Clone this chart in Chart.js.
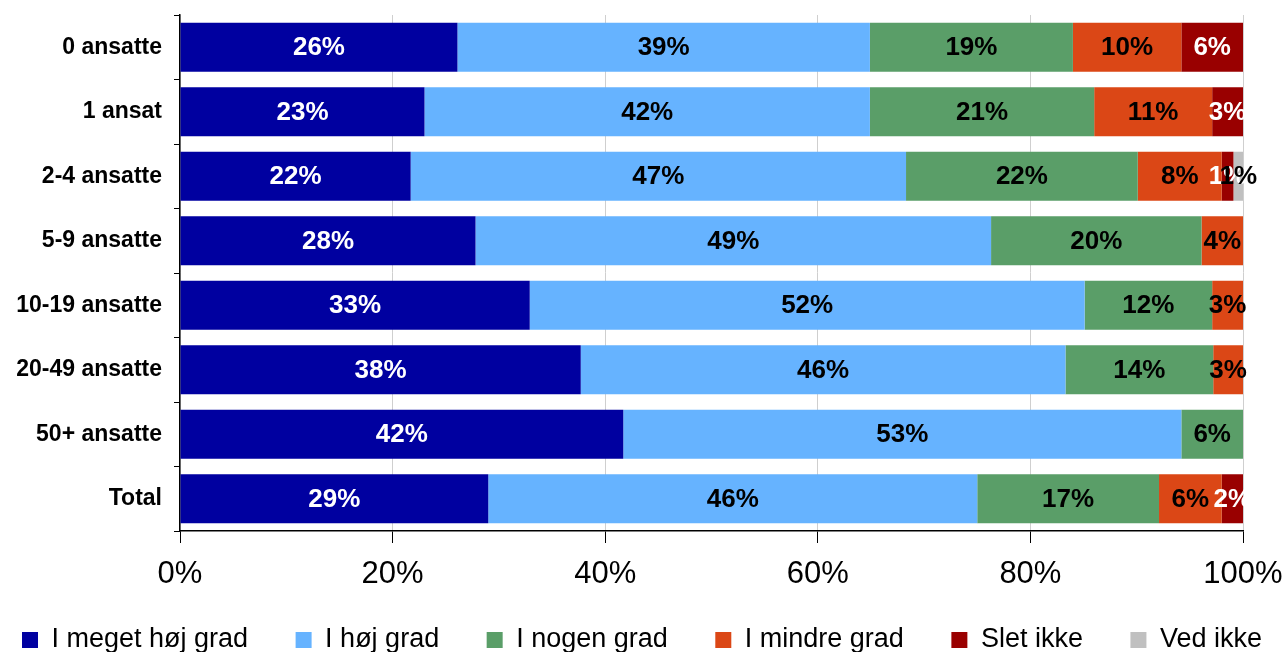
<!DOCTYPE html>
<html><head><meta charset="utf-8">
<script src="https://cdn.jsdelivr.net/npm/chart.js@4/dist/chart.umd.min.js"></script>
<style>html,body{margin:0;padding:0;background:#fff;}#wrap{width:1284px;height:652px;}</style>
</head><body><div id="wrap"><canvas id="c" width="1284" height="652"></canvas></div>
<script>
const categories = ["0 ansatte","1 ansat","2-4 ansatte","5-9 ansatte","10-19 ansatte","20-49 ansatte","50+ ansatte","Total"];
const meget = [26.1, 23.0, 21.7, 27.8, 32.9, 37.7, 41.7, 29.0];
const hoj    = [38.8, 41.9, 46.6, 48.5, 52.2, 45.6, 52.5, 46.0];
const nogen  = [19.1, 21.1, 21.8, 19.8, 12.0, 13.9, 5.8, 17.1];
const mindre = [10.2, 11.1, 7.9, 3.9, 2.9, 2.8, 0, 5.9];
const slet   = [5.8, 2.9, 1.1, 0, 0, 0, 0, 2.0];
const vedikke= [0, 0, 0.9, 0, 0, 0, 0, 0];
const seriesNames = ["I meget høj grad","I høj grad","I nogen grad","I mindre grad","Slet ikke","Ved ikke"];
const xTicks = [0,20,40,60,80,100];

const colors = ["#0000A0","#66B3FF","#5A9E68","#DB4716","#990000","#C0C0C0"];
const labelColors = ["#fff","#000","#000","#000","#fff","#000"];
const allData = [meget,hoj,nogen,mindre,slet,vedikke];
const SP = "\u00A0\u00A0\u00A0\u00A0\u00A0";

const labelPlugin = {
  id:'barLabels',
  afterDatasetsDraw(chart){
    const ctx = chart.ctx;
    ctx.save();
    ctx.font = "bold 26px 'Liberation Sans', Arial, sans-serif";
    ctx.textAlign = 'center';
    ctx.textBaseline = 'middle';
    chart.data.datasets.forEach((ds,di)=>{
      const meta = chart.getDatasetMeta(di);
      meta.data.forEach((el,i)=>{
        const v = ds.data[i];
        if(!v) return;
        const p = el.getProps(['x','y','base'],true);
        ctx.fillStyle = labelColors[di];
        ctx.fillText(Math.round(v)+'%', (p.x+p.base)/2, p.y+1);
      });
    });
    ctx.restore();
  }
};

new Chart(document.getElementById('c'),{
  type:'bar',
  data:{
    labels:categories,
    datasets:allData.map((d,i)=>({label:seriesNames[i],data:d,backgroundColor:colors[i],borderWidth:0,barPercentage:0.76,categoryPercentage:1}))
  },
  options:{
    indexAxis:'y',
    responsive:false,
    animation:false,
    devicePixelRatio:1,
    layout:{padding:{left:0,right:0,top:15,bottom:-11.5}},
    scales:{
      x:{
        stacked:true,min:0,max:100,
        afterBuildTicks(s){ s.ticks = xTicks.map(v=>({value:v})); },
        ticks:{callback:v=>v+'%',color:'#000',font:{family:"'Liberation Sans', Arial, sans-serif",size:31},padding:13,maxRotation:0},
        grid:{color:'#cfcfcf',lineWidth:1,tickLength:12,tickColor:'#000'},
        border:{color:'#000',width:1.5},
        afterFit(s){ s.height = 85.5; s.paddingRight = 41; s.paddingLeft = 0; }
      },
      y:{
        stacked:true,
        ticks:{color:'#000',font:{family:"'Liberation Sans', Arial, sans-serif",size:23,weight:'bold'},padding:12},
        grid:{drawOnChartArea:false,tickLength:6,tickColor:'#000',offset:true},
        border:{color:'#000',width:1.5},
        afterFit(s){ s.width = 180; s.paddingTop = 0; s.paddingBottom = 0; }
      }
    },
    plugins:{
      legend:{
        position:'bottom',
        labels:{
          color:'#000',font:{family:"'Liberation Sans', Arial, sans-serif",size:27},boxWidth:16,boxHeight:16,padding:10,
          generateLabels(chart){
            return chart.data.datasets.map((ds,i)=>({
              text: ds.label + (i < chart.data.datasets.length-1 ? SP : ''),
              fillStyle: ds.backgroundColor, strokeStyle: ds.backgroundColor, lineWidth:0,
              hidden:false, datasetIndex:i, fontColor:'#000'
            }));
          }
        }
      },
      tooltip:{enabled:false}
    }
  },
  plugins:[labelPlugin]
});
</script></body></html>
